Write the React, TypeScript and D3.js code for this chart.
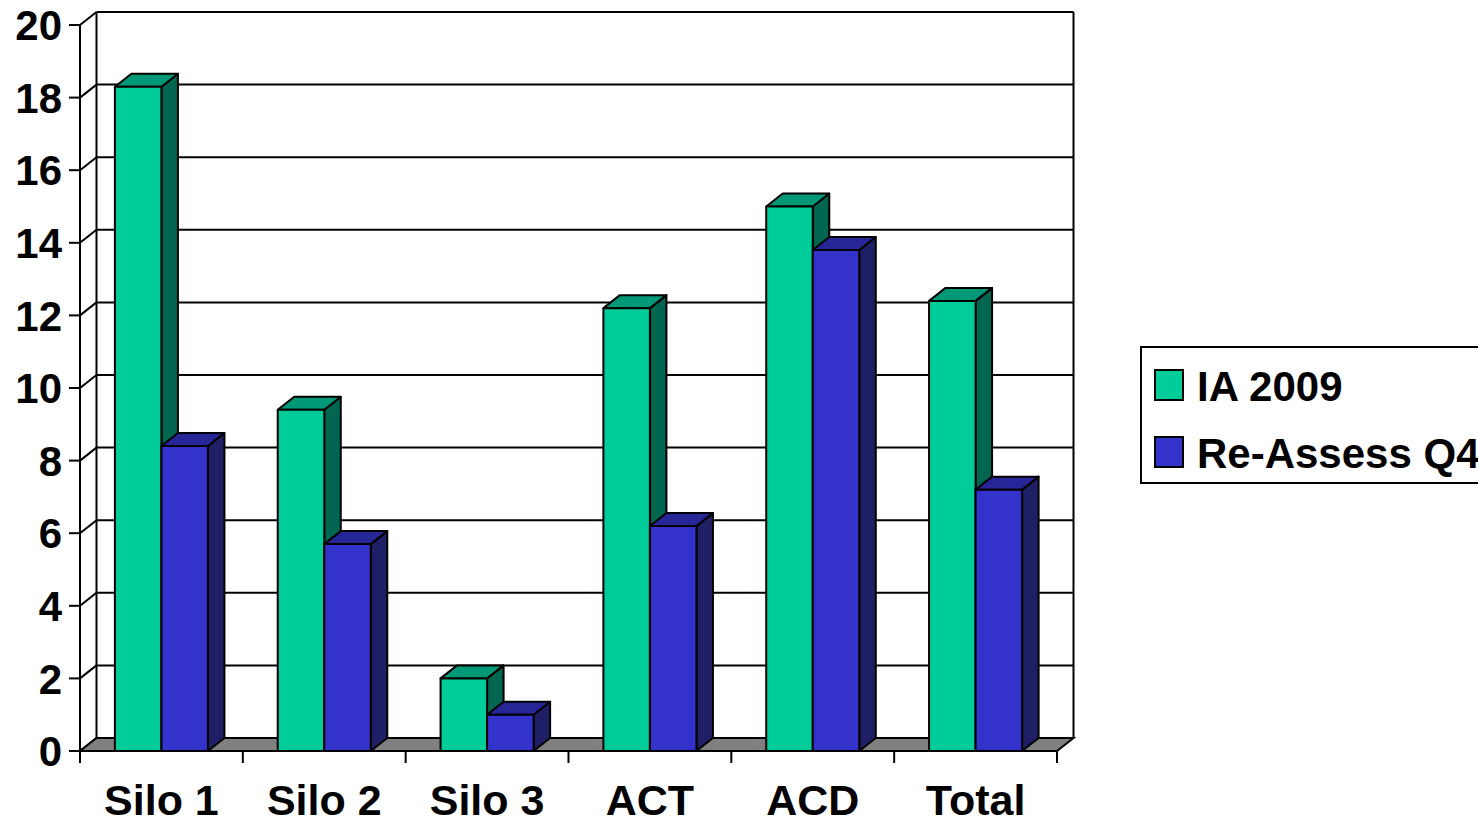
import React from "react";
import * as d3 from "d3";

// Chart data
const categories = ["Silo 1", "Silo 2", "Silo 3", "ACT", "ACD", "Total"];
const ia2009 = [18.3, 9.4, 2.0, 12.2, 15.0, 12.4];
const reassess = [8.4, 5.7, 1.0, 6.2, 13.8, 7.2];
const seriesNames = ["IA 2009", "Re-Assess Q4"];
const yTicks = [0, 2, 4, 6, 8, 10, 12, 14, 16, 18, 20];

const W = 1478;
const H = 825;
const FONT = "'Liberation Sans', Arial, sans-serif";

// Front plane of the plot and depth offset of the 3D box
const plotLeft = 80;
const plotRight = 1057;
const yBottom = 751;
const yTop = 25;
const DX = 16.5;
const DY = -13;

const colors = [
  { front: "#00CC99", top: "#009977", side: "#006650" },
  { front: "#3333CC", top: "#262699", side: "#1F1F66" },
];

export default function App() {
  const y = d3.scaleLinear().domain([0, 20]).range([yBottom, yTop]);
  const x = d3.scaleBand<string>().domain(categories).range([plotLeft, plotRight]).paddingInner(0).paddingOuter(0);
  const band = x.bandwidth();
  const barW = band / 3.5;
  const gapOffset = barW * 0.75;

  const series = [ia2009, reassess];

  const pts = (arr: [number, number][]) => arr.map((p) => p.join(",")).join(" ");

  const bars: React.ReactNode[] = [];
  categories.forEach((c, i) => {
    series.forEach((vals, s) => {
      const x0 = (x(c) as number) + gapOffset + s * barW;
      const x1 = x0 + barW;
      const yt = y(vals[i]);
      const yb = y(0);
      const col = colors[s];
      bars.push(
        <g key={`${c}-${s}`} stroke="#000" strokeWidth={2} strokeLinejoin="round">
          <polygon
            points={pts([[x1, yt], [x1 + DX, yt + DY], [x1 + DX, yb + DY], [x1, yb]])}
            fill={col.side}
          />
          <polygon
            points={pts([[x0, yt], [x1, yt], [x1 + DX, yt + DY], [x0 + DX, yt + DY]])}
            fill={col.top}
          />
          <rect x={x0} y={yt} width={barW} height={yb - yt} fill={col.front} />
        </g>
      );
    });
  });

  const catTicks = [...categories.map((c) => x(c) as number), plotRight];

  return (
    <svg
      width={W}
      height={H}
      style={{ position: "absolute", left: 0, top: 0, background: "#fff" }}
      fontFamily={FONT}
    >
      {/* back wall gridlines */}
      {yTicks.map((t) => (
        <line key={`g${t}`} x1={plotLeft + DX} x2={plotRight + DX} y1={y(t) + DY} y2={y(t) + DY} stroke="#000" strokeWidth={2} />
      ))}
      {/* side wall diagonals */}
      {yTicks.map((t) => (
        <line key={`d${t}`} x1={plotLeft} x2={plotLeft + DX} y1={y(t)} y2={y(t) + DY} stroke="#000" strokeWidth={2} />
      ))}
      {/* back wall edges */}
      <line x1={plotLeft + DX} x2={plotLeft + DX} y1={y(20) + DY} y2={y(0) + DY} stroke="#000" strokeWidth={2} />
      <line x1={plotRight + DX} x2={plotRight + DX} y1={y(20) + DY} y2={y(0) + DY} stroke="#000" strokeWidth={2} />
      {/* floor */}
      <polygon
        points={pts([[plotLeft, yBottom], [plotRight, yBottom], [plotRight + DX, yBottom + DY], [plotLeft + DX, yBottom + DY]])}
        fill="#808080"
        stroke="#000"
        strokeWidth={2}
      />
      {/* value axis */}
      <line x1={plotLeft} x2={plotLeft} y1={y(20)} y2={y(0)} stroke="#000" strokeWidth={2} />
      {yTicks.map((t) => (
        <g key={`t${t}`}>
          <line x1={plotLeft - 11} x2={plotLeft} y1={y(t)} y2={y(t)} stroke="#000" strokeWidth={2} />
          <text x={62} y={y(t)} dy="0.36em" textAnchor="end" fontSize={42} fontWeight="bold">
            {t}
          </text>
        </g>
      ))}

      {bars}

      {/* category axis */}
      <line x1={plotLeft} x2={plotRight} y1={yBottom} y2={yBottom} stroke="#000" strokeWidth={2} />
      {catTicks.map((tx, i) => (
        <line key={`ct${i}`} x1={tx} x2={tx} y1={yBottom} y2={yBottom + 12} stroke="#000" strokeWidth={2} />
      ))}
      {categories.map((c) => (
        <text key={c} x={(x(c) as number) + band / 2} y={815} textAnchor="middle" fontSize={43} fontWeight="bold">
          {c}
        </text>
      ))}

      {/* legend */}
      <rect x={1141} y={347} width={360} height={136} fill="#fff" stroke="#000" strokeWidth={2} />
      {seriesNames.map((n, i) => (
        <g key={n}>
          <rect x={1155} y={370 + i * 67} width={28} height={30} fill={colors[i].front} stroke="#000" strokeWidth={2} />
          <text x={1197} y={401 + i * 67} fontSize={42} fontWeight="bold">
            {n}
          </text>
        </g>
      ))}
    </svg>
  );
}
